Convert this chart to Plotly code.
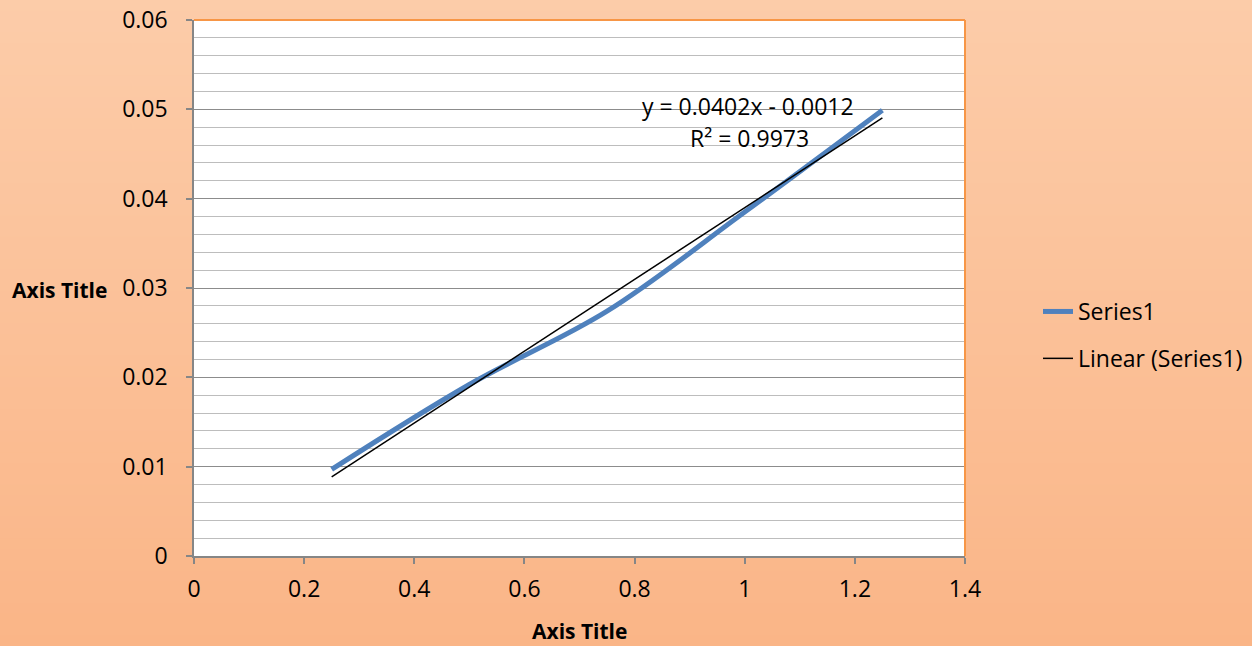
import numpy as np
import plotly.graph_objects as go

# Measured series
x_vals = [0.25, 0.5, 0.75, 1.0, 1.25]
y_vals = [0.0097, 0.0192, 0.0274, 0.0385, 0.0499]

# Linear trendline as reported on the chart
slope = 0.0402
intercept = -0.0012
r_squared = 0.9973

x_ticks = [0, 0.2, 0.4, 0.6, 0.8, 1.0, 1.2, 1.4]
y_ticks = [0, 0.01, 0.02, 0.03, 0.04, 0.05, 0.06]

W, H = 1252, 646
L, R, T, B = 194, 287, 20, 90
pw, ph = W - L - R, H - T - B

FONT = "Open Sans"
FS = 23

fig = go.Figure()

fig.add_trace(go.Scatter(
    x=x_vals, y=y_vals, mode="lines", name="Series1",
    line=dict(color="#4F81BD", width=5, shape="spline", smoothing=1.0),
    legendgroup="a",
))

trend_x = [x_vals[0], x_vals[-1]]
trend_y = [slope * v + intercept for v in trend_x]
fig.add_trace(go.Scatter(
    x=trend_x, y=trend_y, mode="lines", name="Linear (Series1)",
    line=dict(color="#000000", width=1.5),
    legendgroup="b",
))

# Vertical peach gradient behind everything, then the white plotting area
shapes = []
top_c = np.array([252, 204, 169])
bot_c = np.array([250, 181, 135])
n = 60
px0, px1 = -L / pw, (W - L) / pw
for i in range(n):
    t0 = i / n
    t1 = (i + 1) / n
    c = top_c + (bot_c - top_c) * (i + 0.5) / n
    y_top = 1 + T / ph - t0 * H / ph
    y_bot = 1 + T / ph - t1 * H / ph
    shapes.append(dict(
        type="rect", xref="paper", yref="paper", layer="below",
        x0=px0, x1=px1, y0=y_bot - 0.002, y1=y_top,
        line=dict(width=0), fillcolor="rgb(%d,%d,%d)" % tuple(c.round()),
    ))
shapes.append(dict(type="rect", xref="paper", yref="paper", layer="below",
                   x0=0, x1=1, y0=0, y1=1, line=dict(width=0), fillcolor="white"))
# orange frame on top and right edges
shapes.append(dict(type="line", xref="paper", yref="paper", x0=0, x1=1, y0=1, y1=1,
                   line=dict(color="#F79646", width=2)))
shapes.append(dict(type="line", xref="paper", yref="paper", x0=1, x1=1, y0=0, y1=1,
                   line=dict(color="#F79646", width=2)))

eq_text = "y = %.4fx - %.4f" % (slope, -intercept)
r2_text = "R² = %.4f" % r_squared

annotations = [
    dict(x=1.006, y=0.0504, xref="x", yref="y", text=eq_text,
         showarrow=False, xanchor="center", yanchor="middle",
         font=dict(family=FONT, size=FS, color="#000000")),
    dict(x=1.008, y=0.0468, xref="x", yref="y", text=r2_text,
         showarrow=False, xanchor="center", yanchor="middle",
         font=dict(family=FONT, size=FS, color="#000000")),
    dict(x=(59 - L) / pw, y=1 - (290 - T) / ph, xref="paper", yref="paper",
         text="<b>Axis Title</b>", showarrow=False,
         xanchor="center", yanchor="middle",
         font=dict(family=FONT, size=21, color="#000000")),
    dict(x=0.5, y=-(631 - T - ph) / ph, xref="paper", yref="paper",
         text="<b>Axis Title</b>", showarrow=False,
         xanchor="center", yanchor="middle",
         font=dict(family=FONT, size=21, color="#000000")),
]

fig.update_layout(
    width=W, height=H,
    margin=dict(l=L, r=R, t=T, b=B, autoexpand=False),
    paper_bgcolor="#FBC39B",
    plot_bgcolor="white",
    font=dict(family=FONT, size=FS, color="#000000"),
    shapes=shapes,
    annotations=annotations,
    showlegend=True,
    legend=dict(
        x=(1038 - L) / pw, y=1 - (290 - T) / ph, xanchor="left", yanchor="top",
        bgcolor="rgba(0,0,0,0)", tracegroupgap=14,
        font=dict(family=FONT, size=FS, color="#000000"),
    ),
    xaxis=dict(
        range=[0, 1.4], tickvals=x_ticks, ticktext=[("%g" % v) for v in x_ticks],
        showgrid=False, zeroline=False, automargin=False,
        showline=True, linecolor="#868686", linewidth=1.5,
        ticks="outside", ticklen=6, tickcolor="#868686", tickwidth=1.5,
        ticklabelstandoff=6,
        tickfont=dict(family=FONT, size=FS),
    ),
    yaxis=dict(
        range=[0, 0.06], tickvals=y_ticks, ticktext=[("%g" % v) for v in y_ticks],
        showgrid=True, gridcolor="#8C8C8C", gridwidth=1,
        zeroline=False, automargin=False,
        showline=True, linecolor="#868686", linewidth=1.5,
        ticks="outside", ticklen=6, tickcolor="#868686", tickwidth=1.5,
        ticklabelstandoff=14,
        tickfont=dict(family=FONT, size=FS),
        minor=dict(dtick=0.002, showgrid=True, gridcolor="#BDBDBD", gridwidth=1, ticks=""),
    ),
)

fig.write_html("out.html")
